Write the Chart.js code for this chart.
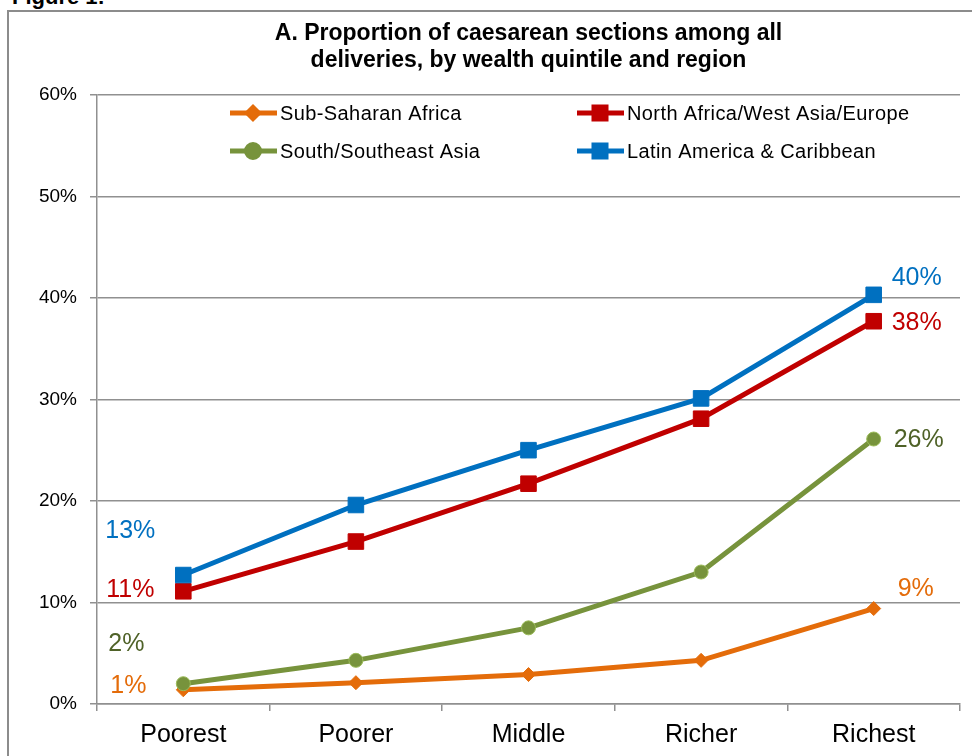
<!DOCTYPE html>
<html>
<head>
<meta charset="utf-8">
<script src="https://cdn.jsdelivr.net/npm/chart.js@4"></script>
<style>
  html, body { margin: 0; padding: 0; overflow: hidden; background: #fff; }
  #wrap { position: relative; width: 972px; height: 756px; overflow: hidden; }
  #frame { position: absolute; left: 7px; top: 10px; width: 990px; height: 780px; border: 2px solid #8c8c8c; box-sizing: border-box; }
  #fig { position: absolute; left: 12px; top: -16px; font: bold 22px "Liberation Sans", Arial, sans-serif; color: #000; }
  canvas { position: absolute; left: 0; top: 0; }
</style>
</head>
<body>
<div id="wrap">
  <div id="fig">Figure 1:</div>
  <div id="frame"></div>
  <canvas id="chart" width="972" height="756"></canvas>
</div>
<script>
Chart.defaults.font.family = '"Liberation Sans", Arial, sans-serif';
Chart.defaults.color = '#000';

// data
const quintiles = ['Poorest', 'Poorer', 'Middle', 'Richer', 'Richest'];
const subSaharan = [1.4, 2.1, 2.9, 4.3, 9.4];
const northAfrica = [11.1, 16.0, 21.7, 28.1, 37.7];
const southAsia = [2.0, 4.3, 7.5, 13.0, 26.1];
const latinAmerica = [12.7, 19.6, 25.0, 30.1, 40.3];
const yTicks = [0, 10, 20, 30, 40, 50, 60];

const gridColor = '#909090';

// end labels: [dx, dy] offsets from first and last point
const labelOffsets = [
    {first: [-55, -4], last: [42, -19], color: '#E46C0A'},
    {first: [-53, -1], last: [43, 2], color: '#C00000'},
    {first: [-57, -40], last: [45, 1], color: '#4F6228'},
    {first: [-53, -44], last: [43, -17], color: '#0070C0'}
];

const endLabels = {
    id: 'endLabels',
    afterDatasetsDraw(chart) {
        const ctx = chart.ctx;
        ctx.save();
        ctx.font = '25px "Liberation Sans", Arial, sans-serif';
        ctx.textAlign = 'center';
        ctx.textBaseline = 'middle';
        chart.data.datasets.forEach((ds, i) => {
            const meta = chart.getDatasetMeta(i);
            const off = labelOffsets[i];
            ctx.fillStyle = off.color;
            const p0 = meta.data[0];
            const pN = meta.data[meta.data.length - 1];
            ctx.fillText(Math.round(ds.data[0]) + '%', p0.x + off.first[0], p0.y + off.first[1]);
            ctx.fillText(Math.round(ds.data[ds.data.length - 1]) + '%', pN.x + off.last[0], pN.y + off.last[1]);
        });
        ctx.restore();
    }
};

// legend drawn inside the plot area, 2 x 2
const legendSlots = [[230, 113], [577, 113], [230, 151], [577, 151]];
const legendRadius = [5.5, 8.5, 6.5, 8.5];
const insideLegend = {
    id: 'insideLegend',
    afterDraw(chart) {
        const ctx = chart.ctx;
        ctx.save();
        ctx.font = '20px "Liberation Sans", Arial, sans-serif';
        ctx.letterSpacing = '0.4px';
        ctx.textBaseline = 'middle';
        ctx.textAlign = 'left';
        chart.data.datasets.forEach((ds, i) => {
            const [x, y] = legendSlots[i];
            ctx.strokeStyle = ds.borderColor;
            ctx.lineWidth = 5;
            ctx.beginPath();
            ctx.moveTo(x, y);
            ctx.lineTo(x + 47, y);
            ctx.stroke();
            Chart.helpers.drawPoint(ctx, {
                pointStyle: ds.pointStyle,
                radius: legendRadius[i],
                borderWidth: 1
            }, x + 23, y);
            ctx.fillStyle = ds.pointBackgroundColor;
            ctx.strokeStyle = ds.pointBorderColor;
            ctx.fill();
            ctx.fillStyle = '#000';
            ctx.fillText(ds.label, x + 50, y + 1);
        });
        ctx.restore();
    }
};

const data = {
    labels: quintiles,
    datasets: [
        {label: 'Sub-Saharan Africa', data: subSaharan, borderColor: '#E46C0A',
         pointStyle: 'rectRot', pointRadius: 7, pointBackgroundColor: '#E46C0A', pointBorderColor: '#E46C0A', order: 4},
        {label: 'North Africa/West Asia/Europe', data: northAfrica, borderColor: '#C00000',
         pointStyle: 'rect', pointRadius: 11, pointBackgroundColor: '#C00000', pointBorderColor: '#C00000', order: 2},
        {label: 'South/Southeast Asia', data: southAsia, borderColor: '#77933C',
         pointStyle: 'circle', pointRadius: 7, pointBackgroundColor: '#77933C', pointBorderColor: '#9BBB59', order: 3},
        {label: 'Latin America & Caribbean', data: latinAmerica, borderColor: '#0070C0',
         pointStyle: 'rect', pointRadius: 11, pointBackgroundColor: '#0070C0', pointBorderColor: '#0070C0', order: 1}
    ]
};
data.datasets.forEach(ds => {
    ds.borderWidth = 5;
    ds.tension = 0;
    ds.pointBorderWidth = 1;
});

const options = {
    responsive: false,
    animation: false,
    layout: {padding: {left: 0, right: 10, top: 0, bottom: 0}},
    plugins: {
        legend: {display: false},
        tooltip: {enabled: false},
        title: {
            display: true,
            fullSize: false,
            text: ['A. Proportion of caesarean sections among all', 'deliveries, by wealth quintile and region'],
            font: {size: 23, weight: 'bold', lineHeight: 1.17},
            color: '#000',
            padding: {top: 20, bottom: 21}
        }
    },
    scales: {
        x: {
            offset: true,
            grid: {offset: true, drawOnChartArea: false, drawTicks: true, tickLength: 7, color: gridColor, lineWidth: 1.5},
            border: {color: gridColor, width: 1.5},
            ticks: {font: {size: 25}, color: '#000', padding: 9, maxRotation: 0},
            afterFit(scale) { scale.height = 52; }
        },
        y: {
            min: 0,
            max: 60,
            afterBuildTicks(scale) { scale.ticks = yTicks.map(v => ({value: v})); },
            grid: {color: gridColor, tickLength: 7, lineWidth: 1.5},
            border: {color: gridColor, width: 1.5},
            ticks: {font: {size: 19}, color: '#000', padding: 13, callback: v => v + '%'},
            afterFit(scale) { scale.width = 97; }
        }
    }
};

const chart = new Chart(document.getElementById('chart'), {
    type: 'line',
    data: data,
    options: options,
    plugins: [endLabels, insideLegend]
});
</script>
</body>
</html>
